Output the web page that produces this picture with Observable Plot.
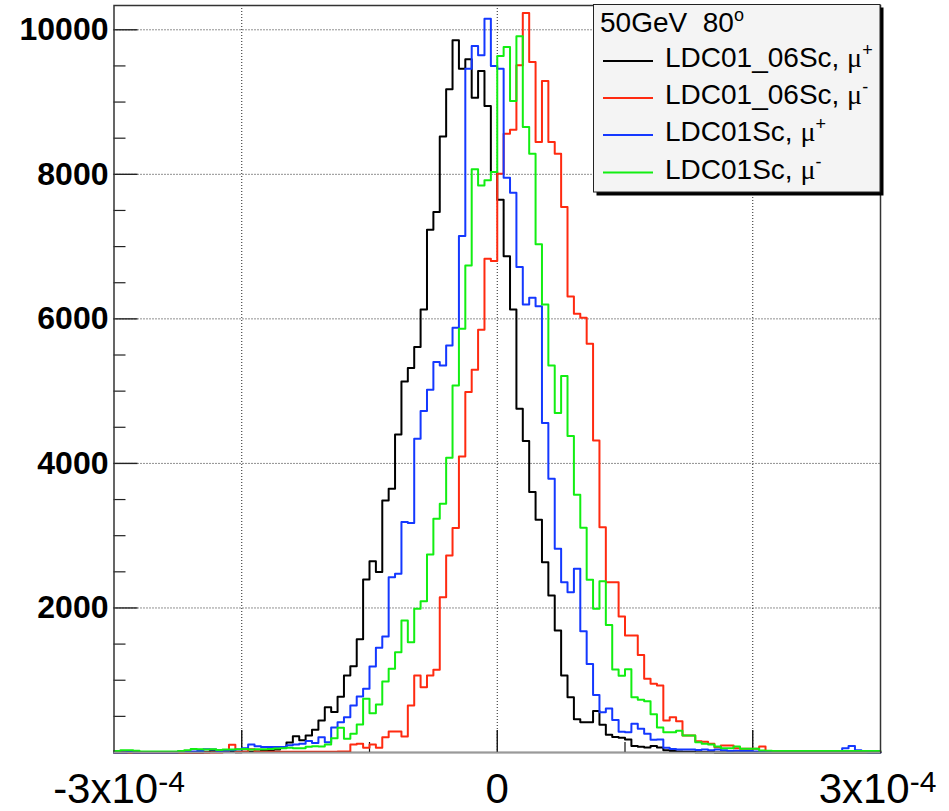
<!DOCTYPE html>
<html><head><meta charset="utf-8">
<script src="https://cdn.jsdelivr.net/npm/d3@7"></script>
<script src="https://cdn.jsdelivr.net/npm/@observablehq/plot@0.6"></script>
<style>html,body{margin:0;padding:0;background:#fff;} #chart{width:949px;height:811px;overflow:hidden;}</style>
</head><body><div id="chart"></div>
<script>
// ---- data ----
const xStart = -3e-4;
const binWidth = 5e-6;
const nBins = 120;

const seriesKeys = ["LDC01_06Sc_mup", "LDC01_06Sc_mum", "LDC01Sc_mup", "LDC01Sc_mum"];
const legendHeader = ["50GeV  80", "o"];
const legendBase = ["LDC01_06Sc, ", "LDC01_06Sc, ", "LDC01Sc, ", "LDC01Sc, "];
const legendMu = "μ";
const legendSup = ["+", "-", "+", "-"];
const seriesColors = ["#000000", "#ff2a10", "#1438ff", "#12ee12"];

const black = [
  0,0,0,0,0,0,0,0,0,0,
  0,0,0,0,5,25,25,10,10,5,
  10,10,15,25,25,40,70,140,225,170,
  235,314,443,627,560,770,1066,1195,1568,2394,
  2648,2496,3488,3649,4401,5135,5319,5610,6131,7234,
  7478,8525,9176,9854,9462,9591,9061,9429,8945,8031,
  7649,6865,6131,4757,4309,3603,3220,2634,2173,1688,
  1066,765,460,420,420,575,385,245,215,205,
  180,90,80,70,90,70,30,20,15,10,
  10,5,5,5,0,0,0,0,0,0,
  0,0,0,0,0,0,0,0,0,0,
  0,0,0,0,0,0,0,0,0,0
];
const red = [
  0,0,0,0,0,0,0,0,0,0,
  0,0,0,0,0,0,0,10,106,10,
  10,45,10,10,10,10,10,10,10,10,
  10,10,10,10,10,14,14,111,120,65,
  111,65,212,291,291,221,650,1066,904,1066,
  1144,2149,2726,3105,4097,4987,5296,5850,6833,6800,
  8009,8562,8618,9508,10232,9554,8447,9291,8447,8286,
  7547,6311,6071,6016,5656,4318,3118,2357,2357,1882,
  1619,1619,1349,1020,951,927,443,489,433,235,
  235,157,150,120,74,97,97,60,51,51,
  51,83,20,15,10,10,10,10,20,10,
  10,10,10,10,10,10,10,10,10,10
];
const blue = [
  0,0,15,0,0,0,0,0,0,0,
  15,15,15,20,45,40,20,25,30,40,
  60,110,85,75,75,75,75,100,110,120,
  160,130,212,143,345,420,489,650,775,881,
  1190,1449,1605,2426,2473,3188,3174,4341,4724,5020,
  5402,5356,5633,5877,7146,9462,9775,9646,10154,9498,
  9462,7954,7746,6717,6200,6293,6173,4558,3788,2819,
  2357,2219,2542,1676,1223,796,558,608,448,286,
  280,397,328,259,175,180,65,50,40,40,
  40,35,40,30,40,30,20,25,20,20,
  15,15,10,10,10,10,10,10,10,10,
  10,10,10,20,60,90,30,10,5,5
];
const green = [
  20,30,30,25,15,15,15,15,15,15,
  20,30,50,45,40,45,35,40,40,45,
  50,40,45,45,50,55,60,65,60,60,
  80,85,83,111,198,341,189,259,388,743,
  544,664,983,1158,1388,1827,1527,1989,2094,2740,
  3234,3442,4078,5079,5864,6740,8069,7847,7917,8031,
  9637,9762,9014,9909,8654,8286,7031,6200,5356,4696,
  5208,4378,3567,3110,2390,1989,2371,1765,1147,1061,
  1151,766,730,708,530,345,281,281,300,235,
  235,143,120,111,83,60,60,83,51,51,
  51,28,25,20,20,20,20,20,20,20,
  20,20,20,20,20,20,20,20,20,20
];

const yMajor = [2000, 4000, 6000, 8000, 10000];
const yMinor = [500,1000,1500,2500,3000,3500,4500,5000,5500,6500,7000,7500,8500,9000,9500];
const xMajor = [-2e-4, 0, 2e-4];
const xMinor = [-1e-4, 1e-4];
const xLabelValues = [-3e-4, 0, 3e-4];
const xLabelBase = ["-3x10", "0", "3x10"];
const xLabelExp = ["-4", "", "-4"];

// ---- layout ----
const W = 949, H = 811;
const mL = 113.5, mR = 69, mT = 5, mB = 59;
const xDomain = [-3e-4, 3e-4];
const yDomain = [0, 10336];
const pxPerX = (W - mL - mR) / (xDomain[1] - xDomain[0]);
const pxPerY = (H - mT - mB) / (yDomain[1] - yDomain[0]);

const edges = d3.range(nBins + 1).map(i => xStart + i * binWidth);
const allSeries = [black, red, blue, green];
const points = [];
allSeries.forEach((vals, s) => {
  vals.forEach((v, i) => points.push({x: edges[i], y: v, s: seriesKeys[s]}));
  points.push({x: edges[nBins], y: vals[nBins - 1], s: seriesKeys[s]});
});

const font = "'Liberation Sans', Arial, Helvetica, sans-serif";
const gridStyle = {stroke: "#222", strokeWidth: 1, strokeDasharray: "1,2"};

const plot = Plot.plot({
  width: W, height: H,
  marginLeft: mL, marginRight: mR, marginTop: mT, marginBottom: mB,
  style: {fontFamily: font, background: "#fff", color: "#000", overflow: "visible"},
  x: {domain: xDomain, axis: null},
  y: {domain: yDomain, axis: null},
  color: {domain: seriesKeys, range: seriesColors},
  marks: [
    Plot.ruleX(xMajor, gridStyle),
    Plot.ruleY(yMajor, gridStyle),
    // y ticks (inward)
    Plot.ruleY(yMajor, {x1: xDomain[0], x2: xDomain[0] + 24 / pxPerX, stroke: "#222", strokeWidth: 1.4}),
    Plot.ruleY(yMinor, {x1: xDomain[0], x2: xDomain[0] + 12 / pxPerX, stroke: "#222", strokeWidth: 1.2}),
    // x ticks (inward)
    Plot.ruleX(xMajor, {y1: 0, y2: 22 / pxPerY, stroke: "#111", strokeWidth: 1.4}),
    Plot.ruleX(xMinor, {y1: 0, y2: 10 / pxPerY, stroke: "#111", strokeWidth: 1.2}),
    Plot.line(points, {x: "x", y: "y", z: "s", stroke: "s", curve: "step-after", strokeWidth: 2}),
    Plot.frame({stroke: "#333", strokeWidth: 1.5}),
    Plot.ruleY([0], {stroke: "#9a9a9a", strokeWidth: 1.5}),
    Plot.axisY({ticks: yMajor, tickSize: 0, tickPadding: 5.5, fontSize: 32, fontWeight: "bold",
      fontFamily: font, label: null, tickFormat: d3.format("d")}),
    Plot.axisX({ticks: xLabelValues, tickSize: 0, tickPadding: 21, fontSize: 42, label: null,
      fontFamily: font, tickFormat: (d) => xLabelBase[xLabelValues.indexOf(d)]})
  ]
});

const svg = d3.select(plot);
svg.selectAll('g[aria-label="y-axis tick label"] text').attr("font-weight", "bold");

// superscript exponents for x labels
svg.selectAll('g[aria-label="x-axis tick label"] text').each(function() {
  const t = d3.select(this);
  const base = t.text();
  const i = xLabelBase.indexOf(base);
  if (i < 0 || !xLabelExp[i]) return;
  t.text("");
  t.append("tspan").attr("dx", i === 0 ? 5 : -3).text(base);
  t.append("tspan").attr("font-size", 30).attr("dy", -11).text(xLabelExp[i]);
});

// legend box (ROOT TLegend style)
const lg = svg.append("g").attr("font-family", font).attr("fill", "#000").attr("text-anchor", "start");
lg.append("rect").attr("x", 596.5).attr("y", 7.5).attr("width", 287).attr("height", 188).attr("fill", "#000");
lg.append("rect").attr("x", 593.5).attr("y", 4.5).attr("width", 286.5).attr("height", 187.5)
  .attr("fill", "#f4f4f4").attr("stroke", "#222").attr("stroke-width", 1);
const hdr = lg.append("text").attr("x", 600).attr("y", 32).attr("font-size", 28)
  .attr("text-anchor", "start").style("white-space", "pre");
hdr.append("tspan").text(legendHeader[0]);
hdr.append("tspan").attr("font-size", 18).attr("dy", -11).text(legendHeader[1]);
const rowY = [61, 98, 135, 172.5];
legendBase.forEach((b, i) => {
  lg.append("line").attr("x1", 603).attr("x2", 653).attr("y1", rowY[i]).attr("y2", rowY[i])
    .attr("stroke", seriesColors[i]).attr("stroke-width", 2);
  const t = lg.append("text").attr("x", 665).attr("y", rowY[i] + 6).attr("font-size", 28)
    .attr("text-anchor", "start").style("white-space", "pre");
  t.append("tspan").text(b);
  t.append("tspan").attr("font-family", "'Liberation Serif', 'Times New Roman', serif").text(legendMu);
  t.append("tspan").attr("font-size", 18).attr("dy", -11).text(legendSup[i]);
});

document.getElementById("chart").append(plot);
</script>
</body></html>
